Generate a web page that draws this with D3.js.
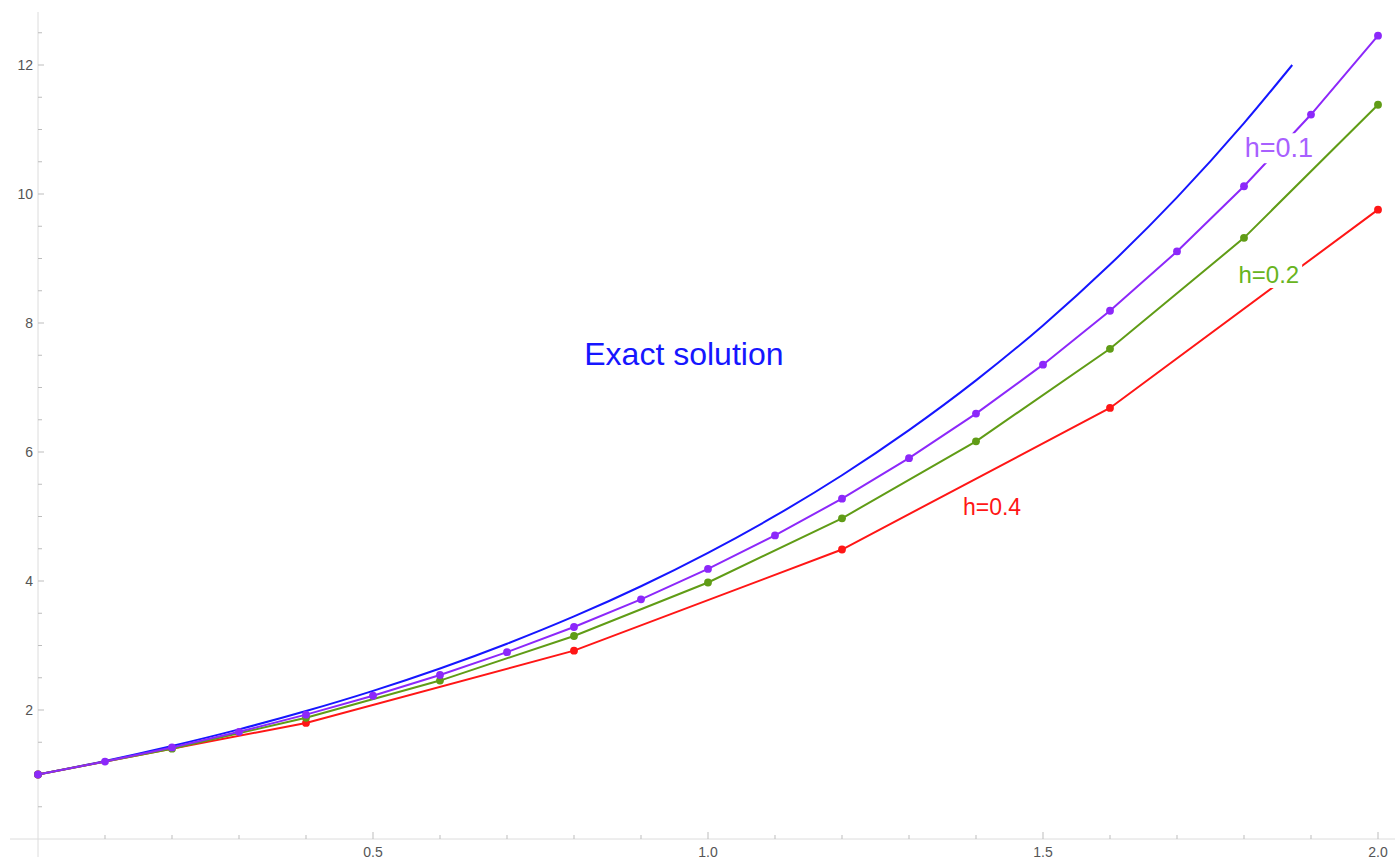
<!DOCTYPE html>
<html>
<head>
<meta charset="utf-8">
<script src="https://cdn.jsdelivr.net/npm/d3@7"></script>
<style>
  html, body { margin: 0; padding: 0; background: #fff; }
  svg { display: block; }
</style>
</head>
<body>
<svg id="chart" width="1395" height="859"></svg>
<script>
// ---- data ----
const exactX = [0, 0.1, 0.2, 0.3, 0.4, 0.5, 0.6, 0.7, 0.8, 0.9, 1.0, 1.1, 1.2, 1.3, 1.4, 1.5, 1.6, 1.7, 1.8, 1.872];
const exactY = [1, 1.210, 1.443, 1.700, 1.984, 2.297, 2.644, 3.028, 3.451, 3.919, 4.437, 5.008, 5.640, 6.339, 7.110, 7.963, 8.906, 9.948, 11.099, 12.0];

const h01X = [0, 0.1, 0.2, 0.3, 0.4, 0.5, 0.6, 0.7, 0.8, 0.9, 1.0, 1.1, 1.2, 1.3, 1.4, 1.5, 1.6, 1.7, 1.8, 1.9, 2.0];
const h01Y = [1, 1.2, 1.42, 1.662, 1.928, 2.221, 2.543, 2.897, 3.287, 3.716, 4.187, 4.706, 5.277, 5.905, 6.595, 7.354, 8.190, 9.109, 10.120, 11.232, 12.455];

const h02X = [0, 0.2, 0.4, 0.6, 0.8, 1.0, 1.2, 1.4, 1.6, 1.8, 2.0];
const h02Y = [1, 1.4, 1.88, 2.456, 3.147, 3.977, 4.972, 6.166, 7.600, 9.320, 11.384];

const h04X = [0, 0.4, 0.8, 1.2, 1.6, 2.0];
const h04Y = [1, 1.8, 2.92, 4.488, 6.683, 9.757];

const xMajorTicks = [0.5, 1.0, 1.5, 2.0];
const yMajorTicks = [2, 4, 6, 8, 10, 12];

const labelTexts = ["Exact solution", "h=0.1", "h=0.2", "h=0.4"];
const labelX = [0.964, 1.852, 1.837, 1.424];
const labelY = [7.35, 10.57, 8.62, 5.02];

// ---- styles ----
const lineColors = { exact: "rgb(22,22,255)", h01: "rgb(140,40,250)", h02: "rgb(96,156,22)", h04: "rgb(255,22,22)" };
const labelColors = ["rgb(22,22,255)", "rgb(168,96,255)", "rgb(104,180,32)", "rgb(255,22,22)"];
const labelSizes = [32, 27, 24, 23];

const svg = d3.select("#chart");
const x = d3.scaleLinear().domain([0, 2]).range([38, 1378]);
const y = d3.scaleLinear().domain([0, 12]).range([839, 65]);

const axisColor = "#dcdcdc";
const tickColor = "#bdbdbd";
const textColor = "#555555";

// axes lines
svg.append("line").attr("x1", 10).attr("x2", 1395).attr("y1", y(0)).attr("y2", y(0))
  .attr("stroke", axisColor).attr("stroke-width", 1);
svg.append("line").attr("x1", x(0)).attr("x2", x(0)).attr("y1", 12).attr("y2", 857)
  .attr("stroke", axisColor).attr("stroke-width", 1);

// x ticks
const xMinor = d3.range(1, 21).map(i => i / 10).filter(v => !xMajorTicks.some(m => Math.abs(m - v) < 1e-9));
svg.append("g").selectAll("line").data(xMinor).join("line")
  .attr("x1", d => x(d)).attr("x2", d => x(d)).attr("y1", y(0)).attr("y2", y(0) - 4)
  .attr("stroke", tickColor).attr("stroke-width", 1);
svg.append("g").selectAll("line").data(xMajorTicks).join("line")
  .attr("x1", d => x(d)).attr("x2", d => x(d)).attr("y1", y(0)).attr("y2", y(0) - 7)
  .attr("stroke", tickColor).attr("stroke-width", 1);
svg.append("g").selectAll("text").data(xMajorTicks).join("text")
  .attr("x", d => x(d)).attr("y", 857)
  .attr("text-anchor", "middle")
  .attr("font-family", "Liberation Sans, Arial, sans-serif").attr("font-size", 14)
  .attr("fill", textColor).text(d => d3.format(".1f")(d));

// y ticks
const yMinor = d3.range(1, 26).map(i => i / 2).filter(v => !yMajorTicks.includes(v));
svg.append("g").selectAll("line").data(yMinor).join("line")
  .attr("x1", x(0)).attr("x2", x(0) + 4).attr("y1", d => y(d)).attr("y2", d => y(d))
  .attr("stroke", tickColor).attr("stroke-width", 1);
svg.append("g").selectAll("line").data(yMajorTicks).join("line")
  .attr("x1", x(0)).attr("x2", x(0) + 6).attr("y1", d => y(d)).attr("y2", d => y(d))
  .attr("stroke", tickColor).attr("stroke-width", 1);
svg.append("g").selectAll("text").data(yMajorTicks).join("text")
  .attr("x", 33).attr("y", d => y(d)).attr("dy", "0.36em")
  .attr("text-anchor", "end")
  .attr("font-family", "Liberation Sans, Arial, sans-serif").attr("font-size", 14)
  .attr("fill", textColor).text(d => d);

// exact curve
const exactPts = exactX.map((v, i) => [v, exactY[i]]);
svg.append("path").datum(exactPts)
  .attr("d", d3.line().x(d => x(d[0])).y(d => y(d[1])).curve(d3.curveMonotoneX))
  .attr("fill", "none").attr("stroke", lineColors.exact).attr("stroke-width", 2);

function series(xs, ys, color) {
  const pts = xs.map((v, i) => [v, ys[i]]);
  const g = svg.append("g");
  g.append("path").datum(pts)
    .attr("d", d3.line().x(d => x(d[0])).y(d => y(d[1])))
    .attr("fill", "none").attr("stroke", color).attr("stroke-width", 2);
  g.selectAll("circle").data(pts).join("circle")
    .attr("cx", d => x(d[0])).attr("cy", d => y(d[1])).attr("r", 3.9)
    .attr("fill", color);
}
series(h04X, h04Y, lineColors.h04);
series(h02X, h02Y, lineColors.h02);
series(h01X, h01Y, lineColors.h01);

// labels with white backgrounds
labelTexts.forEach((t, i) => {
  const g = svg.append("g");
  const txt = g.append("text")
    .attr("x", x(labelX[i])).attr("y", y(labelY[i]))
    .attr("text-anchor", "middle")
    .attr("font-family", "Liberation Sans, Arial, sans-serif")
    .attr("font-size", labelSizes[i])
    .attr("fill", labelColors[i]).text(t);
  const bb = txt.node().getBBox();
  g.insert("rect", "text")
    .attr("x", bb.x - 3).attr("y", bb.y).attr("width", bb.width + 6).attr("height", bb.height)
    .attr("fill", "#fff");
});
</script>
</body>
</html>
